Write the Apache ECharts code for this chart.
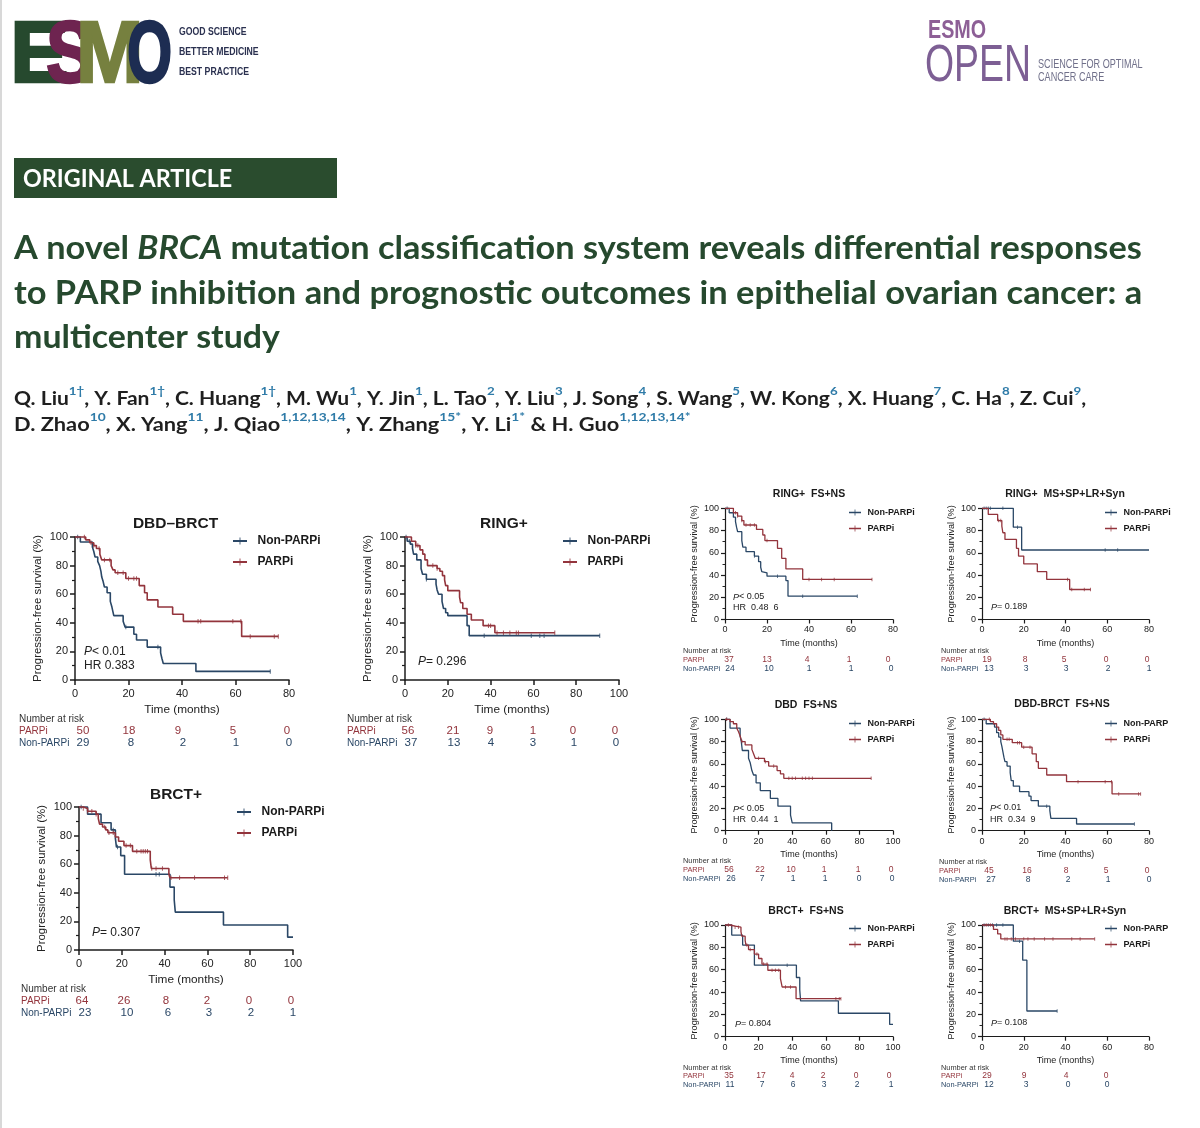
<!DOCTYPE html>
<html><head><meta charset="utf-8">
<style>html,body{margin:0;padding:0;background:#fff}#c{width:1200px;height:1128px}</style>
<script src="https://cdn.jsdelivr.net/npm/echarts@6/dist/echarts.min.js"></script>
</head><body><div id="c"></div>
<script>
// ---------- DATA: [time in months, survival %] step points ----------
const dbdBrctNon=[[0,100],[2,96.5],[6.5,93],[7,90],[7.5,86],[8.5,83],[9.2,80],[9.7,76],[10,72],[10.5,69],[11,65],[12,61],[13.2,55],[13.8,51],[14.5,45],[18,41],[18.7,37],[22,32],[23,28],[27,23],[32,19],[32.5,15],[33,11.5],[45.2,6],[73,6]];
const dbdBrctPar=[[0,100],[4,98],[5.5,96],[7,94],[8,92],[9.3,88],[10,84],[13.5,80],[14.2,77],[15,75],[19,71],[24,66],[26,61],[27,56],[31,51],[36.5,46],[40.5,41],[62.3,30.5],[76,30.5]];
const dbdBrctNonC=[1,19,31,73];
const dbdBrctParC=[3.5,6,7,9,11,13,16,18,20,22,23,46,47,59,62,65.5,74.5,76];
const ringNon=[[0,100],[1,97],[2.5,95],[3.5,92],[4,88],[5.5,84],[7.5,78],[8.2,74],[10,70.5],[14.5,67],[15,63],[15.7,60],[17.3,55],[18,50],[19,47],[20,45],[29,38],[30,31],[91,31]];
const ringPar=[[0,100],[3,97],[5,94],[7,91],[8.3,88],[9.3,84],[10.5,80],[15,78],[16.3,76],[17.5,73],[18.5,70],[19,66],[20,62.5],[25.5,58],[26,54],[27,50],[29,46],[31,42],[36.5,38],[42,33],[70,33]];
const ringNonC=[0.5,2,10,37,59,63,65,91];
const ringParC=[5,6,13,15,39,40,43,46,49,52,53,70];
const brctNon=[[0,100],[4,95],[10.3,89],[15,84],[17,78],[17.5,72],[19.5,66],[21.3,53],[42.5,44],[44.5,35],[45,26.5],[67.5,17.5],[97.5,9],[100,9]];
const brctPar=[[0,100],[2,99],[4,97],[8,95],[9,92],[9.6,88],[11,86],[12.5,84],[13.5,82],[17,79],[18.5,76],[21,73],[25,69],[33.3,63],[33.8,57],[42,53],[42.5,50.5],[69.5,50.5]];
const brctNonC=[1,16,18,36,37.5];
const brctParC=[2,4,6,8,12,14,16,22,24,27,29,30,31,32,34,36,39,43,47,54,68,69.5];
const ringFsNon=[[0,100],[2,96],[4,92],[5,88],[5.5,83],[6,79],[8,71],[8.5,65],[10,61],[14,57],[16,52],[17,47],[17.5,43],[18,42],[20,39],[29,35],[30,21],[63,21]];
const ringFsPar=[[0,100],[4,96],[6,93],[8,89],[9,85],[15,81],[18,76],[19,71],[25,64],[27,55],[29,45.5],[37,36],[70,36]];
const ringFsNonC=[1,14,25,37,63];
const ringFsParC=[5,6,8,10,12,14,20,40,46,52,70];
const ringMsNon=[[0,100],[15,83],[19,62.5],[80,62.5]];
const ringMsPar=[[0,100],[3,94.5],[7.5,89],[9.5,84],[10,78],[11,72],[16.5,64],[17.5,57],[20,50],[26.5,43],[31,36],[42,27],[52,27]];
const ringMsNonC=[1,2,3,4,10,17,59,65];
const ringMsParC=[8,9,41,43,49,52];
const dbdFsNon=[[0,100],[3,92],[9,85],[9.7,80],[10.3,72],[14,65],[15,61],[16,54],[17,50],[18.5,43],[21,36],[27,29],[31.5,22],[39,14],[40,7],[63.5,0],[63.6,0]];
const dbdFsPar=[[0,100],[3,98],[5,96],[7,92],[8,89],[9,85],[10,80],[12,77],[16,73],[17,69],[18,65],[23.5,62],[26,58],[31,54],[33,51],[35,47],[87,47]];
const dbdFsNonC=[1,10];
const dbdFsParC=[1,10,20,24,29,38,40,42,46,48,50,52,87];
const dbdBrctFsNon=[[0,100],[2,96],[6,93],[7,88],[8,84],[9,80],[9.5,76],[10,71],[10.5,66],[11,62],[12,58],[13.5,52],[14,45],[15,40],[18,35],[22.5,31],[23.5,27],[27,22],[32.5,18],[33,11],[45.3,6],[73,6]];
const dbdBrctFsPar=[[0,100],[4,98],[5.5,96],[7,93],[8,90],[9,86],[10,82],[14.5,79],[19,75],[24,69],[26,62],[27,56],[31,50],[40.5,44],[62.3,33],[76,33]];
const dbdBrctFsNonC=[1,31,73];
const dbdBrctFsParC=[3.5,12,13,17,18,20,23,46,59,62,65.5,75,76];
const brctFsNon=[[0,100],[4,91],[10.5,82],[17.5,64],[42.5,53],[44.5,42],[45,32],[67.5,21],[98,11],[100,11]];
const brctFsPar=[[0,100],[3,99],[6,98],[9.5,94],[10,90],[12,86],[12.5,82],[14,78],[17.5,74],[20,70],[22,65],[25.5,59.5],[33,52],[34,44.5],[42.3,34],[69,34]];
const brctFsNonC=[37];
const brctFsParC=[2,4,6,8,13,15,19,23,25,28,30,32,36,39,66,68,69];
const brctMsNon=[[0,100],[15,85.5],[19.5,68.5],[21.5,23],[36,23]];
const brctMsPar=[[0,100],[5.5,96],[7.5,92],[9,87.5],[54,87.5]];
const brctMsNonC=[1,3,5,7,10,18,36];
const brctMsParC=[2,4,11,12,14,16,20,22,25,30,34,43,47,54];

const panelTitles=['DBD\u2013BRCT','RING+','BRCT+','RING+  FS+NS','RING+  MS+SP+LR+Syn','DBD  FS+NS','DBD-BRCT  FS+NS','BRCT+  FS+NS','BRCT+  MS+SP+LR+Syn'];
const xMaxes=[80,100,100,80,80,100,80,100,80];
const xTicks=[20,20,20,20,20,20,20,20,20];
const yTickLabels=[0,20,40,60,80,100];
const nonNames=['Non-PARPi','Non-PARPi','Non-PARPi','Non-PARPi','Non-PARPi','Non-PARPi','Non-PARP','Non-PARPi','Non-PARP'];
const parName='PARPi';
const nonCurves=[dbdBrctNon,ringNon,brctNon,ringFsNon,ringMsNon,dbdFsNon,dbdBrctFsNon,brctFsNon,brctMsNon];
const parCurves=[dbdBrctPar,ringPar,brctPar,ringFsPar,ringMsPar,dbdFsPar,dbdBrctFsPar,brctFsPar,brctMsPar];
const nonCens=[dbdBrctNonC,ringNonC,brctNonC,ringFsNonC,ringMsNonC,dbdFsNonC,dbdBrctFsNonC,brctFsNonC,brctMsNonC];
const parCens=[dbdBrctParC,ringParC,brctParC,ringFsParC,ringMsParC,dbdFsParC,dbdBrctFsParC,brctFsParC,brctMsParC];
const riskPar=[[50,18,9,5,0],[56,21,9,1,0,0],[64,26,8,2,0,0],[37,13,4,1,0],[19,8,5,0,0],[56,22,10,1,1,0],[45,16,8,5,0],[35,17,4,2,0,0],[29,9,4,0]];
const riskNon=[[29,8,2,1,0],[37,13,4,3,1,0],[23,10,6,3,2,1],[24,10,1,1,0],[13,3,3,2,1],[26,7,1,1,0,0],[27,8,2,1,0],[11,7,6,3,2,1],[12,3,0,0]];
const statLines=[['P< 0.01','HR 0.383'],['P= 0.296'],['P= 0.307'],['P< 0.05','HR  0.48  6'],['P= 0.189'],['P< 0.05','HR  0.44  1'],['P< 0.01','HR  0.34  9'],['P= 0.804'],['P= 0.108']];
const titleLines=['A novel |BRCA| mutation classification system reveals differential responses','to PARP inhibition and prognostic outcomes in epithelial ovarian cancer: a','multicenter study'];
const authors1=[['Q. Liu','1\u2020'],['Y. Fan','1\u2020'],['C. Huang','1\u2020'],['M. Wu','1'],['Y. Jin','1'],['L. Tao','2'],['Y. Liu','3'],['J. Song','4'],['S. Wang','5'],['W. Kong','6'],['X. Huang','7'],['C. Ha','8'],['Z. Cui','9']];
const authors2=[['D. Zhao','10'],['X. Yang','11'],['J. Qiao','1,12,13,14'],['Y. Zhang','15*'],['Y. Li','1*'],['H. Guo','1,12,13,14*']];

// ---------- LAYOUT ----------
const BLUE='#2a4766',RED='#93343c',INK='#222';
const SANS='"Liberation Sans",Arial,sans-serif', HEAD='Lato,"Open Sans",sans-serif';
const L=[
 {big:1,x0:75,x1:289,y0:537,y1:680,tx:175.5,ty:524,lx:233,ly:[540,561],rx:19,ry:[719,731,743],rp:[83,129,178,233,287],rn:[83,131,183,236,289],sx:84,sy:[652,666]},
 {big:1,x0:405,x1:619,y0:537,y1:680,tx:504,ty:524,lx:563,ly:[540,561],rx:347,ry:[719,731,743],rp:[408,453,490,533,573,615],rn:[411,454,491,533,574,616],sx:418,sy:[662]},
 {big:1,x0:79,x1:293,y0:807,y1:950,tx:176,ty:795,lx:237,ly:[811,832],rx:21,ry:[989,1001,1013],rp:[82,124,166,207,249,291],rn:[85,127,168,209,251,293],sx:92,sy:[933]},
 {big:0,x0:725,x1:893,y0:508.3,y1:619.5,tx:809,ty:494.5,lx:849,ly:[512,528],rx:683,ry:[651,660,669],rp:[729,767,807,849,888],rn:[730,769,809,851,891],sx:733,sy:[597,608]},
 {big:0,x0:982,x1:1149,y0:508.3,y1:619.5,tx:1065,ty:494,lx:1105,ly:[512,528],rx:941,ry:[651,660,669],rp:[987,1025,1064,1106,1147],rn:[989,1026,1066,1108,1149],sx:991,sy:[607]},
 {big:0,x0:725,x1:893,y0:719.3,y1:830.7,tx:806,ty:705,lx:849,ly:[723,739],rx:683,ry:[861,870,879],rp:[729,760,791,824,858,891],rn:[731,762,793,825,859,892],sx:733,sy:[809,820]},
 {big:0,x0:982,x1:1149,y0:719.3,y1:830.7,tx:1062,ty:704,lx:1105,ly:[723,739],rx:939,ry:[862,871,880],rp:[989,1027,1066,1106,1147],rn:[991,1028,1068,1108,1149],sx:990,sy:[808,820]},
 {big:0,x0:725,x1:893,y0:925,y1:1036.7,tx:806,ty:911,lx:849,ly:[928,944],rx:683,ry:[1068,1076,1085],rp:[729,761,792,823,856,889],rn:[730,762,793,824,857,891],sx:735,sy:[1024]},
 {big:0,x0:982,x1:1149,y0:925,y1:1036.7,tx:1065,ty:911,lx:1105,ly:[928,944],rx:941,ry:[1068,1076,1085],rp:[987,1024,1066,1106],rn:[989,1026,1068,1107],sx:991,sy:[1023]}
];

function stepAt(c,t){let v=c[0][1];for(const p of c){if(p[0]<=t)v=p[1];}return v;}
const T=(x,y,text,o,sx)=>{const g={type:'text',x,y,silent:true,z:10,style:Object.assign({text,fontFamily:SANS,fontSize:10,fill:INK,align:'left',verticalAlign:'middle'},o||{})};if(sx)g.scaleX=sx;return g;};
const graphics=[];
graphics.push({type:'rect',silent:true,shape:{x:0,y:0,width:2,height:1128},style:{fill:'#d8d8d8'}});
// Logos
const logo=[['E',10,'#26492e',1.0],['S',46,'#6e2450',0.82],['M',76,'#76803f',0.92],['O',127,'#1d2d52',0.66]];
logo.forEach(l=>{graphics.push({type:'text',x:l[1],y:57.5,scaleX:l[3],silent:true,style:{text:l[0],fontFamily:SANS,fontWeight:'bold',fontSize:88,fill:l[2],stroke:l[2],lineWidth:2.5,align:'left',verticalAlign:'middle'}});});
['GOOD SCIENCE','BETTER MEDICINE','BEST PRACTICE'].forEach((s,i)=>graphics.push(T(179,32+i*20,s,{fontSize:11,fontWeight:'bold',fill:'#2b3150'},0.79)));
graphics.push(T(928,31,'ESMO',{fontSize:26,fontWeight:'bold',fill:'#8d5f96'},0.76));
graphics.push(T(925,67,'OPEN',{fontSize:52,fill:'#7d5f94'},0.72));
graphics.push(T(1038,64,'SCIENCE FOR OPTIMAL',{fontSize:13,fill:'#70708a'},0.70));
graphics.push(T(1038,77,'CANCER CARE',{fontSize:13,fill:'#70708a'},0.70));
// Banner and title
graphics.push({type:'rect',silent:true,shape:{x:14,y:158,width:323,height:40},style:{fill:'#2a4c2e'}});
graphics.push(T(23,179,'ORIGINAL ARTICLE',{fontFamily:HEAD,fontWeight:'bold',fontSize:25,fill:'#fff'},0.933));
const titleRich={a:{fontFamily:HEAD,fontWeight:'bold',fontSize:33,color:'#26492e',fill:'#26492e'},i:{fontFamily:HEAD,fontWeight:'bold',fontStyle:'italic',fontSize:33,color:'#26492e',fill:'#26492e'}};
const titleScale=[1.039,1.044,1.027];
titleLines.forEach((s,i)=>{const parts=s.split('|');const txt=parts.map((p,k)=>(k%2?'{i|'+p+'}':'{a|'+p+'}')).join('');
 graphics.push(T(14,[248,293,337][i],txt,{rich:titleRich,fill:'#26492e'},titleScale[i]));});
// Authors
const aRich={n:{fontFamily:HEAD,fontWeight:'bold',fontSize:19,color:'#1f1f1f',fill:'#1f1f1f',lineHeight:23,verticalAlign:'bottom'},s:{fontFamily:HEAD,fontWeight:'bold',fontSize:12,color:'#2f7ba8',fill:'#2f7ba8',lineHeight:14,verticalAlign:'top'}};
const aLine=(a,tail)=>a.map((p,i)=>'{n|'+p[0]+'}{s|'+p[1]+'}'+(i<a.length-1?'{n|'+(i===a.length-2&&tail?' & ':', ')+'}':(tail?'':'{n|,}'))).join('');
graphics.push(T(14,397,aLine(authors1,false),{rich:aRich},1.108));
graphics.push(T(14,423,aLine(authors2,true),{rich:aRich},1.147));

const opt={animation:false,backgroundColor:'#fff',textStyle:{fontFamily:SANS},title:[],grid:[],xAxis:[],yAxis:[],legend:[],series:[],graphic:{elements:graphics}};
L.forEach((p,i)=>{
 const b=p.big, w=b?1.5:1.2, axc='#1c1c1c';
 opt.title.push({text:panelTitles[i],left:p.tx,top:p.ty,padding:0,textAlign:'center',textVerticalAlign:'middle',textStyle:{fontFamily:SANS,fontWeight:'bold',fontSize:b?15.5:10.5,color:'#1a1a1a'}});
 opt.grid.push({left:p.x0,top:p.y0,width:p.x1-p.x0,height:p.y1-p.y0,containLabel:false});
 const lab={fontFamily:SANS,fontSize:b?11:9,color:INK};
 const nameS={fontFamily:SANS,fontSize:b?11.8:9,color:INK};
 opt.xAxis.push({type:'value',gridIndex:i,min:0,max:xMaxes[i],interval:xTicks[i],name:'Time (months)',nameLocation:'middle',nameGap:b?24:19.5,nameTextStyle:nameS,axisLine:{show:true,onZero:false,lineStyle:{color:axc,width:w}},axisTick:{show:true,length:b?5:4,lineStyle:{color:axc,width:w}},axisLabel:Object.assign({margin:b?8:6,hideOverlap:false,showMinLabel:true,showMaxLabel:true},lab),splitLine:{show:false},minorSplitLine:{show:false}});
 opt.yAxis.push({type:'value',gridIndex:i,min:0,max:100,interval:20,name:'Progression-free survival (%)',nameLocation:'middle',nameGap:b?32:26,nameRotate:90,nameTextStyle:Object.assign({},nameS,{fontSize:b?11.4:9.1}),axisLine:{show:true,onZero:false,lineStyle:{color:axc,width:w}},axisTick:{show:true,length:b?5:4,lineStyle:{color:axc,width:w}},minorTick:{show:true,splitNumber:2,length:b?3:2.5,lineStyle:{color:axc,width:w*0.8}},axisLabel:Object.assign({margin:b?7:6,formatter:v=>yTickLabels.includes(v)?String(v):'',showMinLabel:true,showMaxLabel:true},lab),splitLine:{show:false},minorSplitLine:{show:false}});
 const lw=b?1.6:1.3;
 const addCurve=(name,curve,cens,col)=>{
  opt.series.push({type:'line',name,xAxisIndex:i,yAxisIndex:i,data:curve,step:'end',symbol:'none',showSymbol:false,clip:false,lineStyle:{color:col,width:lw},itemStyle:{color:col},z:col===RED?4:3,silent:true});
  opt.series.push({type:'scatter',name:name+' censored',xAxisIndex:i,yAxisIndex:i,data:cens.map(t=>[t,stepAt(curve,t)]),symbol:'rect',symbolSize:[b?1:0.9,b?4.5:3.5],itemStyle:{color:col},clip:false,z:col===RED?4:3,silent:true});
 };
 addCurve(nonNames[i],nonCurves[i],nonCens[i],BLUE);
 addCurve(parName,parCurves[i],parCens[i],RED);
 const iconPath='path://M0,43H100V57H0ZM47,25H53V75H47Z';
 const fs=b?12:9, iw=b?17:12, ih=7;
 [[nonNames[i],BLUE],[parName,RED]].forEach((e,k)=>{
  opt.legend.push({show:true,orient:'horizontal',left:p.lx,top:p.ly[k]-(b?5:4),height:20,padding:0,itemWidth:iw,itemHeight:ih,itemGap:0,selectedMode:false,textStyle:{fontFamily:SANS,fontWeight:'bold',fontSize:fs,color:'#1a1a1a',padding:[0,0,0,b?4:1.5]},
   data:[{name:e[0],icon:iconPath,itemStyle:{color:e[1],borderWidth:0,opacity:1},lineStyle:{width:0}}]});
 });
 // at-risk table
 const rf=b?10:7.4, nf=b?11.5:8.5;
 graphics.push(T(p.rx,p.ry[0],'Number at risk',{fontSize:rf,fill:'#333'}));
 graphics.push(T(p.rx,p.ry[1],'PARPi',{fontSize:rf,fill:RED}));
 graphics.push(T(p.rx,p.ry[2],'Non-PARPi',{fontSize:rf,fill:BLUE}));
 riskPar[i].forEach((v,k)=>graphics.push(T(p.rp[k],p.ry[1],String(v),{fontSize:nf,fill:RED,align:'center'})));
 riskNon[i].forEach((v,k)=>graphics.push(T(p.rn[k],p.ry[2],String(v),{fontSize:nf,fill:BLUE,align:'center'})));
 // statistics
 statLines[i].forEach((s,k)=>{
  const fsz=b?12:9;
  const rich={i:{fontFamily:SANS,fontStyle:'italic',fontSize:fsz,color:INK,fill:INK},r:{fontFamily:SANS,fontSize:fsz,color:INK,fill:INK}};
  const txt=s[0]==='P'?'{i|P}{r|'+s.slice(1)+'}':'{r|'+s+'}';
  graphics.push(T(p.sx,p.sy[k],txt,{rich}));
 });
});
const chart=echarts.init(document.getElementById('c'),null,{renderer:'canvas',width:1200,height:1128});
chart.setOption(opt);
</script></body></html>
